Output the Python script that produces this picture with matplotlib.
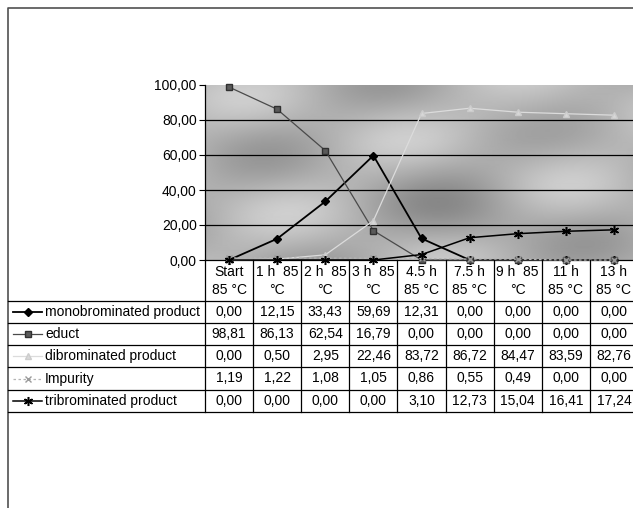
import numpy as np
import matplotlib
matplotlib.use("Agg")
import matplotlib.pyplot as plt
from matplotlib.transforms import blended_transform_factory
from matplotlib.lines import Line2D

plt.rcParams['font.family'] = ['Liberation Sans', 'DejaVu Sans']

# ---------------- data ----------------
categories = ["Start\n85 °C", "1 h  85\n°C", "2 h  85\n°C", "3 h  85\n°C", "4.5 h\n85 °C",
              "7.5 h\n85 °C", "9 h  85\n°C", "11 h\n85 °C", "13 h\n85 °C"]
series_names = ["monobrominated product", "educt", "dibrominated product", "Impurity",
                "tribrominated product"]
mono = [0.00, 12.15, 33.43, 59.69, 12.31, 0.00, 0.00, 0.00, 0.00]
educt = [98.81, 86.13, 62.54, 16.79, 0.00, 0.00, 0.00, 0.00, 0.00]
dibrom = [0.00, 0.50, 2.95, 22.46, 83.72, 86.72, 84.47, 83.59, 82.76]
impurity = [1.19, 1.22, 1.08, 1.05, 0.86, 0.55, 0.49, 0.00, 0.00]
tribrom = [0.00, 0.00, 0.00, 0.00, 3.10, 12.73, 15.04, 16.41, 17.24]
yticks = [0, 20, 40, 60, 80, 100]
ytick_labels = ["0,00", "20,00", "40,00", "60,00", "80,00", "100,00"]

series_values = [mono, educt, dibrom, impurity, tribrom]
styles = [
    dict(color="black", lw=1.3, marker="D", ms=4.5, mfc="black", mec="black", ls="-"),
    dict(color="#4a4a4a", lw=0.9, marker="s", ms=5, mfc="#5a5a5a", mec="#303030", ls="-"),
    dict(color="#dcdcdc", lw=0.9, marker="^", ms=5, mfc="#d8d8d8", mec="#cccccc", ls="-"),
    dict(color="#b4b4b4", lw=0.9, marker="x", ms=4.5, mfc="#b4b4b4", mec="#9a9a9a", ls=(0, (2, 2))),
    dict(color="black", lw=1.1, marker=(6, 2, 0), ms=6.5, mfc="black", mec="black", mew=1.1, ls="-"),
]

W, H = 633, 508
fig = plt.figure(figsize=(W / 100, H / 100), dpi=100)

# pixel layout
px_left, px_right, px_top, px_bottom = 205, 638, 85, 260
ax = fig.add_axes([px_left / W, 1 - px_bottom / H, (px_right - px_left) / W, (px_bottom - px_top) / H])
n = len(categories)
ax.set_xlim(-0.5, n - 0.5)
ax.set_ylim(0, 100)

# textured-looking grey background of plot area (decoration only)
hh, ww = px_bottom - px_top, px_right - px_left
yy, xx = np.mgrid[0:hh, 0:ww]
bg = (0.70 + 0.06 * np.sin(xx / 37.0 + yy / 23.0) + 0.05 * np.cos(xx / 61.0 - yy / 17.0)
      - 0.08 * np.exp(-(((xx - 260) / 70.0) ** 2 + ((yy - 130) / 45.0) ** 2))
      + 0.05 * np.exp(-(((xx - 330) / 60.0) ** 2 + ((yy - 30) / 30.0) ** 2)))
ax.imshow(bg, extent=(-0.5, n - 0.5, 0, 100), aspect="auto", cmap="gray", vmin=0, vmax=1,
          interpolation="bilinear", zorder=0)

for y in yticks[1:-1]:
    ax.axhline(y, color="black", lw=0.9, zorder=1)

x = np.arange(n)
for vals, st in zip(series_values, styles):
    ax.plot(x, vals, zorder=3, clip_on=False, **st)

for s in ["top", "right"]:
    ax.spines[s].set_visible(False)
ax.spines["left"].set_linewidth(0.9)
ax.spines["bottom"].set_linewidth(0.9)
ax.set_xticks([])
ax.set_yticks(yticks)
ax.set_yticklabels(ytick_labels, fontsize=10)
ax.tick_params(axis="y", length=4, width=0.8, pad=2, direction="out")

# overlay in pixel coords for table and border
ov = fig.add_axes([0, 0, 1, 1], zorder=5)
ov.set_xlim(0, W)
ov.set_ylim(H, 0)
ov.axis("off")
ov.patch.set_alpha(0)
tr = blended_transform_factory(ax.transData, ov.transData)

# outer chart border
ov.plot([8, 8, W + 5], [H + 5, 8, 8], color="#505050", lw=1.2, clip_on=False)

row_lines = [301, 323, 345, 367, 390, 412]
header_top = px_bottom
# horizontal table lines
for yl in row_lines:
    ov.plot([8, W + 5], [yl, yl], color="black", lw=0.9)
# vertical table lines
ov.plot([px_left, px_left], [header_top, row_lines[-1]], color="black", lw=0.9)
for i in range(n):
    ov.plot([i + 0.5, i + 0.5], [header_top, row_lines[-1]], color="black", lw=0.9, transform=tr)

# header labels
for i, lab in enumerate(categories):
    ov.text(i, 281, lab, transform=tr, ha="center", va="center", fontsize=10, linespacing=1.3)

# rows: legend keys, names, values
for r, (name, vals, st) in enumerate(zip(series_names, series_values, styles)):
    yc = (row_lines[r] + row_lines[r + 1]) / 2
    key = dict(st)
    ov.add_line(Line2D([13, 42], [yc, yc], color=key["color"], lw=key["lw"], ls=key["ls"]))
    ov.add_line(Line2D([28], [yc], color=key["color"], marker=key["marker"], ms=key["ms"],
                       mfc=key["mfc"], mec=key["mec"], mew=key.get("mew", 1.0), ls="none"))
    ov.text(45, yc, name, ha="left", va="center", fontsize=10)
    for i, v in enumerate(vals):
        ov.text(i, yc, f"{v:.2f}".replace(".", ","), transform=tr, ha="center", va="center",
                fontsize=10)

fig.savefig("out.png", dpi=100)
